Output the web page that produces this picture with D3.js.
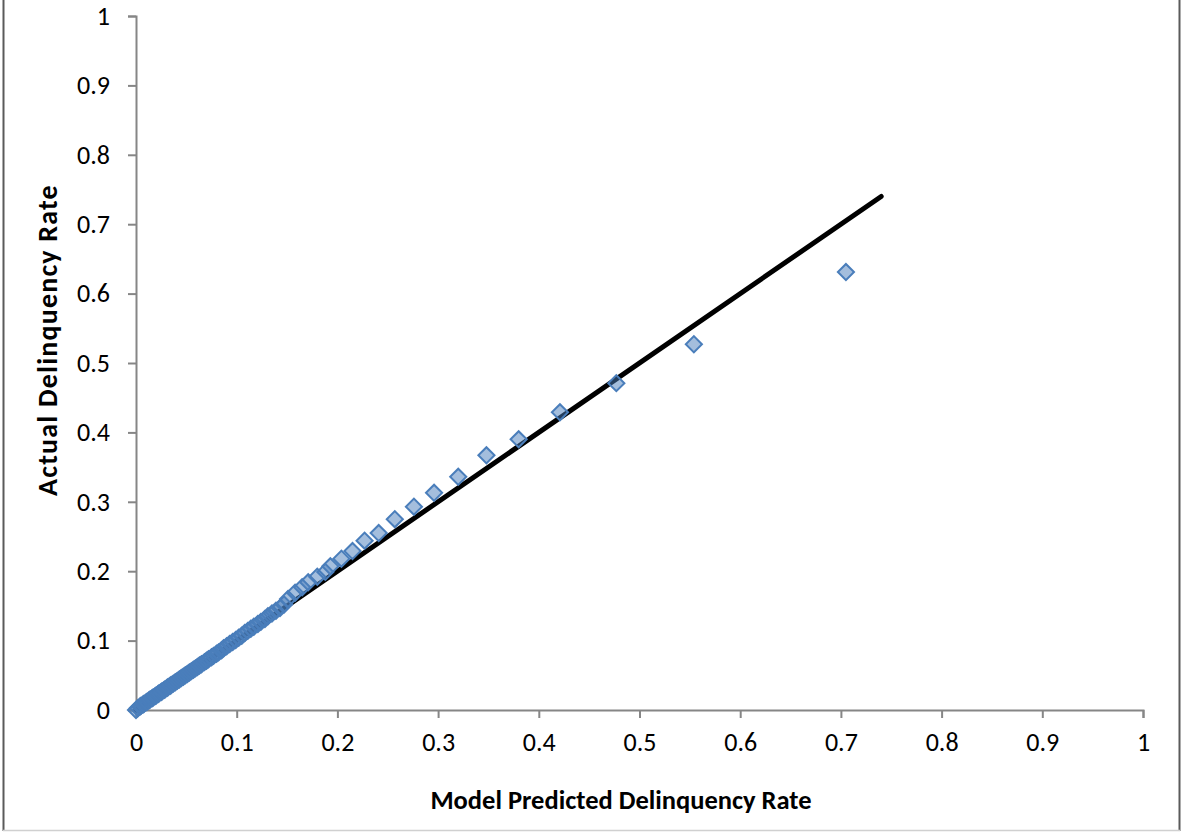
<!DOCTYPE html>
<html>
<head>
<meta charset="utf-8">
<script src="https://cdn.jsdelivr.net/npm/d3@7"></script>
<style>
  html, body { margin: 0; padding: 0; background: #fff; }
  svg { display: block; }
</style>
</head>
<body>
<svg id="chart" width="1183" height="833"></svg>
<script>
// ---- data ----
const predicted = [
  0.000,0.002,0.004,0.005,0.007,0.008,0.010,0.011,0.013,0.014,
  0.016,0.017,0.019,0.020,0.022,0.023,0.025,0.026,0.028,0.029,
  0.031,0.032,0.034,0.035,0.037,0.039,0.041,0.043,0.045,0.047,
  0.049,0.051,0.053,0.055,0.057,0.059,0.061,0.063,0.065,0.068,
  0.070,0.072,0.075,0.077,0.080,0.082,0.085,0.087,0.090,0.093,
  0.096,0.099,0.102,0.105,0.108,0.111,0.114,0.117,0.121,0.124,
  0.128,0.131,0.135,0.139,0.143,0.147,0.151,0.158,0.165,0.171,
  0.180,0.188,0.193,0.204,0.215,0.227,0.241,0.257,0.276,0.296,
  0.320,0.348,0.380,0.421,0.477,0.554,0.705
];
const actual = [
  0.000,0.003,0.005,0.006,0.008,0.009,0.011,0.012,0.014,0.015,
  0.017,0.018,0.020,0.021,0.023,0.024,0.026,0.027,0.029,0.030,
  0.032,0.033,0.035,0.036,0.038,0.040,0.042,0.044,0.046,0.048,
  0.050,0.052,0.054,0.056,0.058,0.060,0.062,0.064,0.066,0.069,
  0.071,0.073,0.076,0.078,0.081,0.083,0.086,0.089,0.092,0.095,
  0.098,0.101,0.104,0.107,0.111,0.114,0.117,0.120,0.124,0.127,
  0.131,0.135,0.139,0.143,0.147,0.152,0.160,0.169,0.177,0.184,
  0.192,0.199,0.207,0.218,0.229,0.244,0.255,0.275,0.293,0.313,
  0.336,0.367,0.390,0.429,0.471,0.527,0.631
];
const fitX = [0, 0.74];
const fitY = [0, 0.74];
const xTicks = [0,0.1,0.2,0.3,0.4,0.5,0.6,0.7,0.8,0.9,1];
const yTicks = [0,0.1,0.2,0.3,0.4,0.5,0.6,0.7,0.8,0.9,1];
const xTitle = "Model Predicted Delinquency Rate";
const yTitle = "Actual Delinquency Rate";

// ---- layout ----
const svg = d3.select("#chart");
const L = 136, R = 1143, T = 16, B = 710;
const x = d3.scaleLinear().domain([0,1]).range([L,R]);
const y = d3.scaleLinear().domain([0,1]).range([B,T]);
const font = "Carlito, Lato, 'Liberation Sans', sans-serif";
const axisColor = "#868686";

// chart frame
svg.append("line").attr("x1",3.5).attr("x2",3.5).attr("y1",-2).attr("y2",831)
  .attr("stroke","#5a5a5a").attr("stroke-width",2);
svg.append("line").attr("x1",1179.5).attr("x2",1179.5).attr("y1",-2).attr("y2",831)
  .attr("stroke","#5a5a5a").attr("stroke-width",2);
svg.append("line").attr("x1",3).attr("x2",1180).attr("y1",830.5).attr("y2",830.5)
  .attr("stroke","#d0d0d0").attr("stroke-width",1.5);

// axes
const fmt = d => d === 0 ? "0" : d === 1 ? "1" : d3.format(".1f")(d);
const xAxis = d3.axisBottom(x).tickValues(xTicks).tickFormat(fmt).tickSize(8).tickSizeOuter(8).tickPadding(15);
const yAxis = d3.axisLeft(y).tickValues(yTicks).tickFormat(fmt).tickSize(8).tickSizeOuter(8).tickPadding(18);

const gx = svg.append("g").attr("transform",`translate(0,${B})`).call(xAxis);
const gy = svg.append("g").attr("transform",`translate(${L},0)`).call(yAxis);
[gx, gy].forEach(g => {
  g.select(".domain").attr("stroke",axisColor).attr("stroke-width",2);
  g.selectAll(".tick line").attr("stroke",axisColor).attr("stroke-width",2);
  g.selectAll(".tick text").attr("fill","#000").style("font-family",font).style("font-size","26px");
});

// fit line
svg.append("line")
  .attr("x1",x(fitX[0])).attr("y1",y(fitY[0]))
  .attr("x2",x(fitX[1])).attr("y2",y(fitY[1]))
  .attr("stroke","#000").attr("stroke-width",5).attr("stroke-linecap","round");

// markers
const sym = d3.symbol().type(d3.symbolSquare).size(130);
svg.append("g").selectAll("path")
  .data(predicted.map((p,i) => [p, actual[i]]))
  .join("path")
  .attr("d", sym)
  .attr("transform", d => `translate(${x(d[0])},${y(d[1])}) rotate(45)`)
  .attr("fill","rgba(74,126,187,0.5)")
  .attr("stroke","#4a7ebb")
  .attr("stroke-width",2);

// titles
svg.append("text").attr("x",621).attr("y",809)
  .attr("text-anchor","middle").style("font-family",font).style("font-size","26.5px")
  .style("font-weight","bold").text(xTitle);
svg.append("text").attr("transform",`translate(57,340) rotate(-90)`)
  .attr("text-anchor","middle").style("font-family",font).style("font-size","28px")
  .style("letter-spacing","1.2px")
  .style("font-weight","bold").text(yTitle);
</script>
</body>
</html>
